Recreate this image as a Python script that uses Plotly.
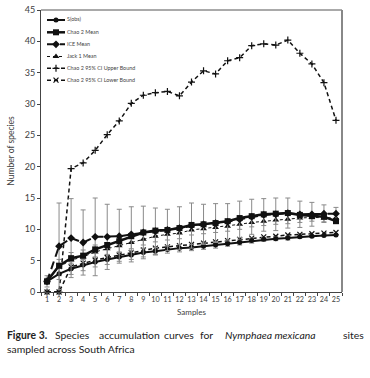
import plotly.graph_objects as go

# ---------------- data ----------------
samples = list(range(1, 26))
s_obs = [1.7, 2.9, 3.7, 4.3, 4.8, 5.2, 5.6, 5.9, 6.3, 6.5, 6.8, 7.0, 7.1, 7.3, 7.5,
         7.7, 7.9, 8.2, 8.4, 8.5, 8.6, 8.8, 8.9, 9.0, 9.1]
s_obs_sd = [0.5, 0.9, 0.9, 0.9, 0.8, 0.8, 0.7, 0.7, 0.7, 0.6, 0.6, 0.6, 0.5, 0.5, 0.5,
            0.4, 0.4, 0.4, 0.3, 0.3, 0.3, 0.2, 0.2, 0.1, 0.0]
chao2_mean = [1.7, 4.2, 5.4, 5.8, 6.8, 7.5, 8.1, 8.9, 9.5, 9.8, 9.9, 10.2, 10.7, 10.8, 11.0,
              11.3, 11.8, 12.1, 12.4, 12.5, 12.6, 12.3, 12.1, 12.0, 11.3]
ice_mean = [1.7, 7.3, 8.6, 7.9, 8.8, 8.8, 8.9, 9.2, 9.5, 9.7, 9.9, 10.2, 10.6, 10.8, 11.0,
            11.2, 11.6, 12.0, 12.3, 12.4, 12.6, 12.4, 12.4, 12.5, 12.5]
ice_sd = [0.9, 6.9, 6.3, 5.2, 6.2, 5.2, 4.3, 4.4, 4.2, 3.7, 3.3, 3.4, 3.6, 3.2, 3.1,
          2.9, 2.9, 2.8, 2.6, 2.6, 2.4, 2.1, 1.9, 1.4, 1.0]
jack1_mean = [1.7, 4.0, 5.1, 5.6, 6.4, 6.9, 7.4, 7.9, 8.4, 8.9, 9.2, 9.4, 9.9, 10.1, 10.3,
              10.5, 10.8, 11.1, 11.3, 11.5, 11.6, 11.8, 11.9, 11.8, 11.8]
jack1_sd = [0.3, 1.2, 1.2, 1.1, 1.1, 1.0, 1.0, 1.0, 0.9, 0.9, 0.9, 0.9, 0.8, 0.8, 0.8,
            0.8, 0.8, 0.7, 0.7, 0.7, 0.7, 0.7, 0.6, 0.6, 0.6]
chao2_upper = [0, 0, 19.7, 20.6, 22.6, 25.1, 27.3, 30.1, 31.4, 31.8, 32.0, 31.3, 33.5, 35.3, 34.8,
               36.9, 37.4, 39.3, 39.6, 39.4, 40.2, 38.1, 36.4, 33.4, 27.4]
chao2_lower = [0, 0, 4.0, 4.6, 5.1, 5.5, 5.9, 6.3, 6.7, 7.0, 7.2, 7.4, 7.6, 7.8, 8.0,
               8.2, 8.4, 8.6, 8.8, 8.9, 9.1, 9.2, 9.3, 9.4, 9.5]

series_names = ["S(obs)", "Chao 2 Mean", "ICE Mean", "Jack 1 Mean",
                "Chao 2 95% CI Upper Bound", "Chao 2 95% CI Lower Bound"]
y_ticks = [0, 5, 10, 15, 20, 25, 30, 35, 40, 45]

# ---------------- styles ----------------
W, H = 370, 378
ML, MR, MT, MB = 41, 28, 10, 86
PW, PH = W - ML - MR, H - MT - MB
BLACK = "#111111"
GREY = "#8a8a8a"

styles = [
    dict(line=dict(color=BLACK, width=2, dash="solid"), marker=dict(symbol="circle", size=5, color=BLACK)),
    dict(line=dict(color=BLACK, width=2.5, dash="solid"), marker=dict(symbol="square", size=6, color=BLACK)),
    dict(line=dict(color=BLACK, width=2, dash="8px,5px"), marker=dict(symbol="diamond", size=6, color=BLACK)),
    dict(line=dict(color=BLACK, width=1, dash="dot"), marker=dict(symbol="triangle-up", size=6, color=BLACK)),
    dict(line=dict(color=BLACK, width=1.5, dash="4px,3px"), marker=dict(symbol="cross-thin", size=5, color=BLACK,
                                                                         line=dict(color=BLACK, width=1.2))),
    dict(line=dict(color=BLACK, width=1.5, dash="4px,3px"), marker=dict(symbol="x-thin", size=5, color=BLACK,
                                                                         line=dict(color=BLACK, width=1.2))),
]

fig = go.Figure()

def err(arr):
    return dict(type="data", array=arr, visible=True, color=GREY, thickness=1, width=2.5)

series = [
    (s_obs, err(s_obs_sd)),
    (chao2_mean, None),
    (ice_mean, err(ice_sd)),
    (jack1_mean, err(jack1_sd)),
    (chao2_upper, None),
    (chao2_lower, None),
]
order = [3, 5, 4, 0, 2, 1]
for i in order:
    y, e = series[i]
    kw = dict(x=samples, y=y, mode="lines+markers", name=series_names[i],
              showlegend=False, cliponaxis=False, **styles[i])
    if e is not None:
        kw["error_y"] = e
    fig.add_trace(go.Scatter(**kw))

# ---------------- manual legend (on an overlay axis in pixel units) ----------------
leg_rows_y = [20, 32.3, 44.3, 56.5, 68.3, 80.2]
leg_line_x0, leg_line_x1, leg_text_x = 47, 65, 67
for i, ry in enumerate(leg_rows_y):
    st = styles[i]
    fig.add_trace(go.Scatter(x=[leg_line_x0, leg_line_x1], y=[ry, ry], mode="lines",
                             line=st["line"], xaxis="x2", yaxis="y2", showlegend=False,
                             hoverinfo="skip"))
    fig.add_trace(go.Scatter(x=[(leg_line_x0 + leg_line_x1) / 2], y=[ry], mode="markers",
                             marker=st["marker"], xaxis="x2", yaxis="y2", showlegend=False,
                             hoverinfo="skip"))
    fig.add_trace(go.Scatter(x=[leg_text_x], y=[ry], mode="text", text=[series_names[i]],
                             textposition="middle right",
                             textfont=dict(size=5.4, color="#444444", family="Lato"),
                             xaxis="x2", yaxis="y2", showlegend=False, hoverinfo="skip"))

def px_x(p):
    return (p - ML) / PW

def px_y(p):
    return (H - MB - p) / PH

fig.update_layout(
    width=W, height=H, autosize=False,
    margin=dict(l=ML, r=MR, t=MT, b=MB, autoexpand=False),
    paper_bgcolor="white", plot_bgcolor="white",
    font=dict(family="Lato", color="#404040"),
    showlegend=False,
    xaxis=dict(
        range=[0.5, 25.5], tickmode="array", tickvals=samples,
        ticktext=[str(s) for s in samples], ticks="", showgrid=False, zeroline=False,
        showline=True, linecolor="#444444", linewidth=1, mirror=False, automargin=False,
        tickfont=dict(size=7.2, color="#404040", family="Lato"),
        minor=dict(tick0=0.5, dtick=1, ticks="outside", ticklen=3, tickcolor="#444444", tickwidth=1),
        title=dict(text="Samples", font=dict(size=8, color="#404040", family="Lato"), standoff=6),
        fixedrange=True,
    ),
    yaxis=dict(
        range=[0, 45], tickmode="array", tickvals=y_ticks, ticks="outside", ticklen=3,
        tickcolor="#444444", showgrid=False, zeroline=False, showline=True,
        linecolor="#444444", linewidth=1, automargin=False,
        tickfont=dict(size=9, color="#404040", family="Lato"),
        title=dict(text="Number of species", font=dict(size=8.5, color="#404040", family="Lato"), standoff=8),
        fixedrange=True,
    ),
    xaxis2=dict(domain=[0, 1], range=[ML, W - MR], overlaying="x", visible=False, fixedrange=True),
    yaxis2=dict(domain=[0, 1], range=[H - MB, MT], overlaying="y", visible=False, fixedrange=True),
)

# plot frame (top and right borders)
fig.add_shape(type="line", xref="paper", yref="paper", x0=0, x1=1, y0=1, y1=1,
              line=dict(color="#555555", width=1))
fig.add_shape(type="line", xref="paper", yref="paper", x0=1, x1=1, y0=0, y1=1,
              line=dict(color="#888888", width=2))

# caption (justified first line: words placed individually)
cap_font = dict(size=10.4, color="#222222", family="Lato")
line1_words = [("<b>Figure 3.</b>", 5), ("Species", 53), ("accumulation", 97), ("curves", 162),
               ("for", 198), ("<i>Nymphaea mexicana</i>", 223)]
for txt, xp in line1_words:
    fig.add_annotation(xref="paper", yref="paper", x=px_x(xp), y=px_y(335), xanchor="left",
                       yanchor="middle", text=txt, showarrow=False, font=cap_font)
fig.add_annotation(xref="paper", yref="paper", x=px_x(366), y=px_y(335), xanchor="right", yanchor="middle",
                   text="sites", showarrow=False, font=cap_font)
fig.add_annotation(xref="paper", yref="paper", x=px_x(5), y=px_y(349), xanchor="left", yanchor="middle",
                   text="sampled across South Africa", showarrow=False, font=cap_font)

fig.write_html("out.html", config={"displayModeBar": False},
               post_script="document.body.style.margin='0';document.body.style.overflow='hidden';")
